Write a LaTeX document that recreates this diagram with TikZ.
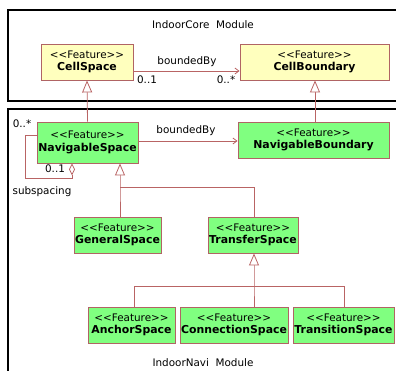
\documentclass[tikz,border=0pt]{standalone}
\usepackage{fontspec}
\setmainfont{DejaVu Sans}
\usetikzlibrary{arrows.meta}
\definecolor{featyellow}{RGB}{255,255,190}
\definecolor{featgreen}{RGB}{128,255,128}
\definecolor{featborder}{RGB}{176,100,100}
\definecolor{conn}{RGB}{185,100,100}
\newcommand{\stereo}{<{}<Feature>{}>}
\newcommand{\fname}[1]{{\fontsize{10.9}{12.5}\selectfont\bfseries #1}}
\begin{document}
\begin{tikzpicture}[x=1pt,y=-1pt,
  feat/.style={draw=featborder, line width=0.9pt, align=center, inner sep=0pt,
    font=\fontsize{10.4}{12.5}\selectfont, minimum height=36pt},
  core/.style={feat, fill=featyellow},
  navi/.style={feat, fill=featgreen},
  conline/.style={draw=conn, line width=0.8pt},
  gen/.style={conline, {Triangle[open, length=12pt, width=10pt, fill=white]}-},
  assoc/.style={conline, -{Straight Barb[length=4pt, width=6pt]}},
  lbl/.style={font=\fontsize{10.4}{12}\selectfont, inner sep=0pt},
  frame/.style={draw=black, line width=1.3pt}
]
\useasboundingbox (0,0) rectangle (396,370);
% frames
\draw[frame] (398,10) -- (8,10) -- (8,101) -- (398,101);
\draw[frame] (398,109) -- (8,109) -- (8,372);
\node[lbl] (coretitle) at (203,25) {IndoorCore\ \ Module};
\node[lbl] (navititle) at (203,363) {IndoorNavi\ \ Module};
% nodes
\node[core, minimum width=92pt] (cs) at (87,62) {\stereo\\\fname{CellSpace}};
\node[core, minimum width=149pt] (cb) at (314.5,62) {\stereo\\\fname{CellBoundary}};
\node[navi, minimum width=101pt, minimum height=41pt] (ns) at (87.5,142.5) {\stereo\\\fname{NavigableSpace}};
\node[navi, minimum width=151pt] (nb) at (313.5,140) {\stereo\\\fname{NavigableBoundary}};
\node[navi, minimum width=87pt] (gs) at (117.5,235) {\stereo\\\fname{GeneralSpace}};
\node[navi, minimum width=90pt] (ts) at (253,235) {\stereo\\\fname{TransferSpace}};
\node[navi, minimum width=87pt] (as) at (131.5,325) {\stereo\\\fname{AnchorSpace}};
\node[navi, minimum width=108pt] (cns) at (234,325) {\stereo\\\fname{ConnectionSpace}};
\node[navi, minimum width=101pt] (trs) at (343.5,325) {\stereo\\\fname{TransitionSpace}};
% generalizations
\draw[gen] (cs.south) -- (ns.north);
\draw[gen] (cb.south -| 315,0) -- (nb.north -| 315,0);
\coordinate (g1) at (120,187);
\draw[gen] (ns.south -| g1) -- (g1) -- (gs.north -| g1);
\draw[conline] (g1) -- (254,187) -- (ts.north -| 254,0);
\coordinate (g2) at (254,286);
\draw[gen] (ts.south -| g2) -- (g2) -- (cns.north -| g2);
\draw[conline] (134,286) -- (g2);
\draw[conline] (134,286) -- (as.north -| 134,0);
\draw[conline] (g2) -- (344,286) -- (trs.north -| 344,0);
% associations
\draw[assoc] (cs.east |- 0,71) -- (cb.west |- 0,71);
\node[lbl] (bb1) at (187,62) {boundedBy};
\node[lbl] (m1) at (147,80) {0..1};
\node[lbl] (m2) at (226,80) {0..*};
\draw[assoc] (ns.east |- 0,141) -- (nb.west |- 0,141);
\node[lbl] (bb2) at (186,131) {boundedBy};
% self association
\coordinate (d0) at (72,163);
\draw[conline, {Diamond[open, length=12pt, width=6pt, fill=white]}-] (ns.south -| d0) -- (72,178) -- (25,178) -- (25,135) -- (ns.west |- 0,135);
\node[lbl] (m3) at (22,124) {0..*};
\node[lbl] (m4) at (55,169) {0..1};
\node[lbl] (sub) at (42,192) {subspacing};
\end{tikzpicture}
\end{document}
